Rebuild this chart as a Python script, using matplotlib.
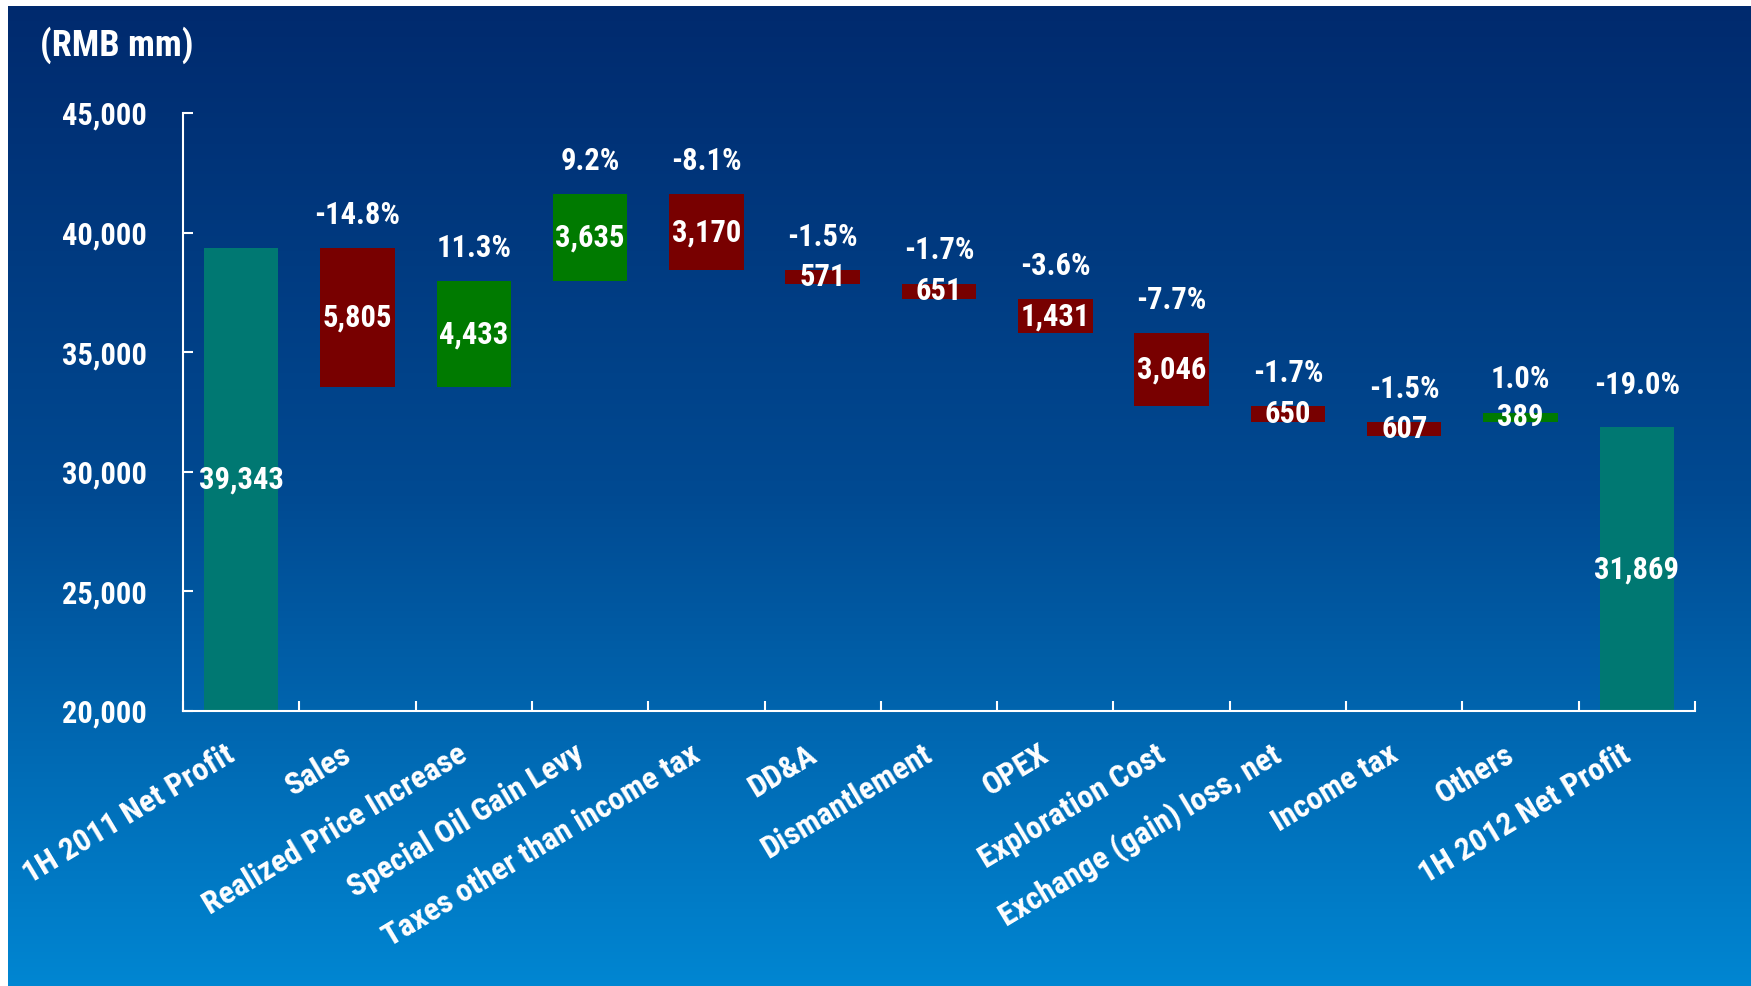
import matplotlib
matplotlib.use('Agg')
import matplotlib.pyplot as plt
import matplotlib.transforms as mtransforms
import numpy as np
from matplotlib import font_manager
from matplotlib.colors import LinearSegmentedColormap
from matplotlib.ticker import FuncFormatter

categories = ['1H 2011 Net Profit', 'Sales', 'Realized Price Increase', 'Special Oil Gain Levy',
              'Taxes other than income tax', 'DD&A', 'Dismantlement', 'OPEX', 'Exploration Cost',
              'Exchange (gain) loss, net', 'Income tax', 'Others', '1H 2012 Net Profit']
changes = [39343, -5805, 4433, 3635, -3170, -571, -651, -1431, -3046, -650, -607, 389, 31869]
pct_labels = ['', '-14.8%', '11.3%', '9.2%', '-8.1%', '-1.5%', '-1.7%', '-3.6%',
              '-7.7%', '-1.7%', '-1.5%', '1.0%', '-19.0%']
y_ticks = [20000, 25000, 30000, 35000, 40000, 45000]

TEAL = '#007872'
RED = '#780000'
GREEN = '#007a00'
W = 1751
H = 986

# the slide uses a narrow bold sans; pick the closest installed one
fonts = font_manager.fontManager.ttflist
names = {f.name for f in fonts}
family = None
for cand in ['Liberation Sans Narrow', 'Arial Narrow', 'Roboto Condensed', 'Open Sans Condensed']:
    if cand in names:
        family = cand
        break
stretch = 'normal'
if family is None:
    for cand in ['Roboto', 'Open Sans', 'Noto Sans', 'DejaVu Sans']:
        if any(f.name == cand and str(f.stretch) in ('condensed', 'semi-condensed', '75', '87.5')
               for f in fonts):
            family = cand
            stretch = 'condensed'
            break
if family is None:
    family = 'Liberation Sans'

plt.rcParams['font.family'] = [family, 'Liberation Sans', 'DejaVu Sans']
plt.rcParams['font.weight'] = 'bold'
plt.rcParams['font.stretch'] = stretch
FS = 22

fig = plt.figure(figsize=(W / 100, H / 100), dpi=100, facecolor='white')

# gradient background (thin white strip on top and left like the source slide)
bg = fig.add_axes([8 / W, 0, 1 - 8 / W, 1 - 6 / H], zorder=-1)
cmap = LinearSegmentedColormap.from_list('bg', ['#002a6e', '#004a92', '#0086d2'])
bg.imshow(np.linspace(0, 1, 256).reshape(-1, 1), aspect='auto', cmap=cmap,
          extent=[0, 1, 0, 1], origin='upper')
bg.axis('off')

ax = fig.add_axes([183 / W, 1 - 711 / H, (1695 - 183) / W, (711 - 113) / H])
ax.set_facecolor('none')

n = len(categories)
x = np.arange(n)
ymin = y_ticks[0]

level = 0
levels = []
bottoms, tops, colors = [], [], []
for i, d in enumerate(changes):
    if i == 0 or i == n - 1:
        bottoms.append(0)
        tops.append(d)
        colors.append(TEAL)
        level = d
    else:
        base = level
        # source chart draws "Others" from the level before income tax
        if categories[i] == 'Others':
            base = levels[i - 2]
        bottoms.append(min(base, base + d))
        tops.append(max(base, base + d))
        colors.append(GREEN if d > 0 else RED)
        level = level + d
    levels.append(level)

bottoms = np.array(bottoms, dtype=float)
tops = np.array(tops, dtype=float)
ax.bar(x, tops - bottoms, bottom=bottoms, width=0.64, color=colors, zorder=2)

for i, d in enumerate(changes):
    lo = max(bottoms[i], ymin)
    ax.text(x[i], (lo + tops[i]) / 2, f'{abs(d):,}', color='white', fontsize=FS,
            fontweight='bold', ha='center', va='center', zorder=3)
    if pct_labels[i]:
        off = 30 if i == n - 1 else 24
        ax.annotate(pct_labels[i], (x[i], tops[i]), xytext=(0, off), textcoords='offset points',
                    color='white', fontsize=FS, fontweight='bold', ha='center', va='center')

ax.set_xlim(-0.5, n - 0.5)
ax.set_ylim(ymin, y_ticks[-1])
ax.set_yticks(y_ticks)
ax.yaxis.set_major_formatter(FuncFormatter(lambda v, p: f'{int(v):,}'))

# category labels: drawn as text so they can sit a bit left of the bar centre
ax.set_xticks(x)
ax.set_xticklabels([])
ax.set_xticks(np.arange(n + 1) - 0.5, minor=True)
lab_tr = ax.get_xaxis_transform() + mtransforms.ScaledTranslation(-17 / 100, -28 / 100,
                                                                   fig.dpi_scale_trans)
for i, name in enumerate(categories):
    ax.text(x[i], 0, name, transform=lab_tr, rotation=31, ha='right', va='top',
            rotation_mode='anchor', color='white', fontsize=23, fontweight='bold', clip_on=False)

ax.tick_params(axis='x', which='major', length=0)
ax.tick_params(axis='x', which='minor', direction='in', length=7, width=1.5, colors='white')
ax.tick_params(axis='y', direction='in', length=7, width=1.5, pad=26, colors='white', labelsize=FS)

for s in ['top', 'right']:
    ax.spines[s].set_visible(False)
for s in ['left', 'bottom']:
    ax.spines[s].set_color('white')
    ax.spines[s].set_linewidth(1.5)

fig.text(40 / W, 1 - 45 / H, '(RMB mm)', color='white', fontsize=26, fontweight='bold',
         ha='left', va='center')

fig.savefig('out.png', dpi=100, facecolor=fig.get_facecolor())
